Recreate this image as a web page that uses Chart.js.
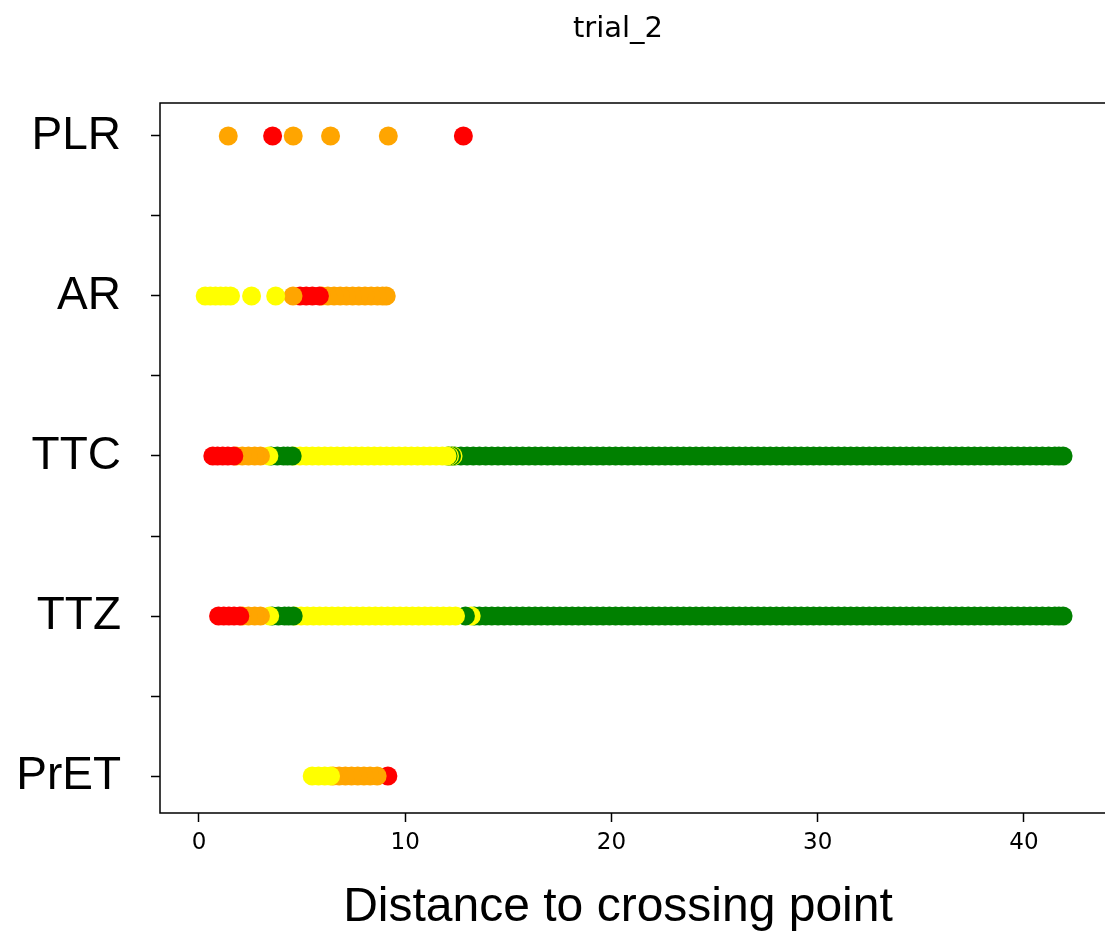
<!DOCTYPE html>
<html>
<head>
<meta charset="utf-8">
<script src="https://cdn.jsdelivr.net/npm/chart.js@4"></script>
<style>
	html, body { margin: 0; overflow: hidden; background: #fff; width: 1105px; height: 945px; }
	#clip { position: absolute; left: 0; top: 0; width: 1105px; height: 945px; overflow: hidden; }
	#chart { position: absolute; left: 0; top: 0; }
	.txt { position: absolute; left: 0; width: 1105px; text-align: center; line-height: 1; color: #000; white-space: nowrap; }
	#title { top: 10px; font: 29px "DejaVu Sans"; text-indent: 131px; }
	#xlabel { top: 877px; font: 48px "Liberation Sans"; text-indent: 131px; }
</style>
</head>
<body>
<div id="clip"><canvas id="chart" width="1160" height="945"></canvas></div>
<div id="title" class="txt">trial_2</div>
<div id="xlabel" class="txt">Distance to crossing point</div>
<script>
// rows from bottom (y = 0) to top (y = 4)
const categories = ["PrET", "TTZ", "TTC", "AR", "PLR"];
const xTicks = [0, 10, 20, 30, 40];
const yTicks = [0, 0.5, 1, 1.5, 2, 2.5, 3, 3.5, 4];

const RED = "#ff0000", ORANGE = "#ffa500", YELLOW = "#ffff00", GREEN = "#008000";

// PLR
const plrOrange = [1.42, 4.57, 6.38, 9.18];
const plrRed = [3.57, 12.82];

// AR
const arYellow = [0.30, 0.55, 0.8, 1.05, 1.3, 1.53, 2.55, 3.72];
const arRed = [4.9, 5.2, 5.5, 5.84];
const arOrange = [4.56, 5.95, 6.25, 6.55, 6.85, 7.15, 7.45, 7.75, 8.05, 8.35, 8.65, 8.9, 9.08];

// TTC
const ttcRed = [0.67, 0.9, 1.15, 1.4, 1.69];
const ttcOrange = [1.8, 2.1, 2.4, 2.7, 2.98];
const ttcYellow = [3.39, 4.6, 4.9, 5.2, 5.5, 5.8, 6.1, 6.4, 6.7, 7.0, 7.3, 7.6, 7.9, 8.2, 8.5, 8.8,
	9.1, 9.4, 9.7, 10.0, 10.3, 10.6, 10.9, 11.2, 11.5, 11.8, 12.03, 12.15, 12.32];
const ttcGreen = [3.5, 3.8, 4.1, 4.3, 4.52, 12.08, 12.25, 12.4, 12.7, 13.0, 13.3, 13.6, 13.9, 14.2,
	14.5, 14.8, 15.1, 15.4, 15.7, 16.0, 16.3, 16.6, 16.9, 17.2, 17.5, 17.8, 18.1, 18.4, 18.7, 19.0,
	19.3, 19.6, 19.9, 20.2, 20.5, 20.8, 21.1, 21.4, 21.7, 22.0, 22.3, 22.6, 22.9, 23.2, 23.5, 23.8,
	24.1, 24.4, 24.7, 25.0, 25.3, 25.6, 25.9, 26.2, 26.5, 26.8, 27.1, 27.4, 27.7, 28.0, 28.3, 28.6,
	28.9, 29.2, 29.5, 29.8, 30.1, 30.4, 30.7, 31.0, 31.3, 31.6, 31.9, 32.2, 32.5, 32.8, 33.1, 33.4,
	33.7, 34.0, 34.3, 34.6, 34.9, 35.2, 35.5, 35.8, 36.1, 36.4, 36.7, 37.0, 37.3, 37.6, 37.9, 38.2,
	38.5, 38.8, 39.1, 39.4, 39.7, 40.0, 40.3, 40.6, 40.9, 41.2, 41.5, 41.7, 41.9];

// TTZ
const ttzRed = [0.95, 1.2, 1.45, 1.7, 1.98];
const ttzOrange = [2.1, 2.4, 2.7, 2.98];
const ttzYellow = [3.43, 4.65, 4.95, 5.25, 5.55, 5.85, 6.15, 6.45, 6.75, 7.05, 7.35, 7.65, 7.95,
	8.25, 8.55, 8.85, 9.15, 9.45, 9.75, 10.05, 10.35, 10.65, 10.95, 11.25, 11.55, 11.85, 12.15, 12.44, 13.2];
const ttzGreen = [3.55, 3.85, 4.15, 4.35, 4.57, 12.92, 13.35, 13.6, 13.9, 14.2,
	14.5, 14.8, 15.1, 15.4, 15.7, 16.0, 16.3, 16.6, 16.9, 17.2, 17.5, 17.8, 18.1, 18.4, 18.7, 19.0,
	19.3, 19.6, 19.9, 20.2, 20.5, 20.8, 21.1, 21.4, 21.7, 22.0, 22.3, 22.6, 22.9, 23.2, 23.5, 23.8,
	24.1, 24.4, 24.7, 25.0, 25.3, 25.6, 25.9, 26.2, 26.5, 26.8, 27.1, 27.4, 27.7, 28.0, 28.3, 28.6,
	28.9, 29.2, 29.5, 29.8, 30.1, 30.4, 30.7, 31.0, 31.3, 31.6, 31.9, 32.2, 32.5, 32.8, 33.1, 33.4,
	33.7, 34.0, 34.3, 34.6, 34.9, 35.2, 35.5, 35.8, 36.1, 36.4, 36.7, 37.0, 37.3, 37.6, 37.9, 38.2,
	38.5, 38.8, 39.1, 39.4, 39.7, 40.0, 40.3, 40.6, 40.9, 41.2, 41.5, 41.7, 41.9];

// PrET
const pretYellow = [5.49, 5.8, 6.1, 6.38];
const pretOrange = [6.5, 6.8, 7.1, 7.4, 7.7, 8.0, 8.3, 8.64];
const pretRed = [9.16];

// merge one row; nearer points are drawn last so they sit on top
function row(y, groups) {
	let pts = [];
	groups.forEach(([xs, c]) => xs.forEach(x => pts.push({x: x, y: y, c: c})));
	pts.sort((a, b) => b.x - a.x);
	return pts;
}

const rows = [
	row(0, [[pretYellow, YELLOW], [pretOrange, ORANGE], [pretRed, RED]]),
	row(1, [[ttzRed, RED], [ttzOrange, ORANGE], [ttzYellow, YELLOW], [ttzGreen, GREEN]]),
	row(2, [[ttcRed, RED], [ttcOrange, ORANGE], [ttcYellow, YELLOW], [ttcGreen, GREEN]]),
	row(3, [[arYellow, YELLOW], [arRed, RED], [arOrange, ORANGE]]),
	row(4, [[plrOrange, ORANGE], [plrRed, RED]]),
];

// left, top and bottom spines; the right one lies past the cropped edge
const frame = {
	id: "frame",
	beforeDatasetsDraw(chart) {
		const {ctx, chartArea: a, width: w} = chart;
		ctx.save();
		ctx.strokeStyle = "#000";
		ctx.lineWidth = 1.5;
		ctx.beginPath();
		ctx.moveTo(w, a.top);
		ctx.lineTo(a.left, a.top);
		ctx.lineTo(a.left, a.bottom);
		ctx.lineTo(w, a.bottom);
		ctx.stroke();
		ctx.restore();
	}
};

new Chart(document.getElementById("chart"), {
	type: "scatter",
	data: {
		datasets: rows.map((pts, i) => ({
			label: categories[i],
			data: pts,
			backgroundColor: ctx => ctx.raw ? ctx.raw.c : RED,
			borderWidth: 0,
			pointRadius: 9.5,
			pointHoverRadius: 9.5,
		}))
	},
	options: {
		responsive: false,
		animation: false,
		layout: { padding: { top: 103, right: 47, left: 0, bottom: 0 } },
		plugins: { legend: { display: false }, tooltip: { enabled: false } },
		scales: {
			x: {
				type: "linear",
				min: -1.89,
				max: 44.32,
				afterBuildTicks: s => { s.ticks = xTicks.map(v => ({value: v})); },
				afterFit: s => { s.height = 132; s.paddingLeft = 0; s.paddingRight = 0; },
				border: { display: false },
				grid: { drawOnChartArea: false, drawTicks: true, tickLength: 9, tickColor: "#000", tickWidth: 1.5 },
				ticks: { color: "#000", padding: 7, font: { family: "DejaVu Sans", size: 23 } }
			},
			y: {
				type: "linear",
				min: -0.231,
				max: 4.206,
				afterBuildTicks: s => { s.ticks = yTicks.map(v => ({value: v})); },
				afterFit: s => { s.width = 160; s.paddingTop = 0; s.paddingBottom = 0; },
				border: { display: false },
				grid: { drawOnChartArea: false, drawTicks: true, tickLength: 9, tickColor: "#000", tickWidth: 1.5 },
				ticks: {
					color: "#000",
					padding: 30,
					autoSkip: false,
					font: { family: "Liberation Sans", size: 46 },
					callback: v => Number.isInteger(v) ? categories[v] : ""
				}
			}
		}
	},
	plugins: [frame]
});
</script>
</body>
</html>
